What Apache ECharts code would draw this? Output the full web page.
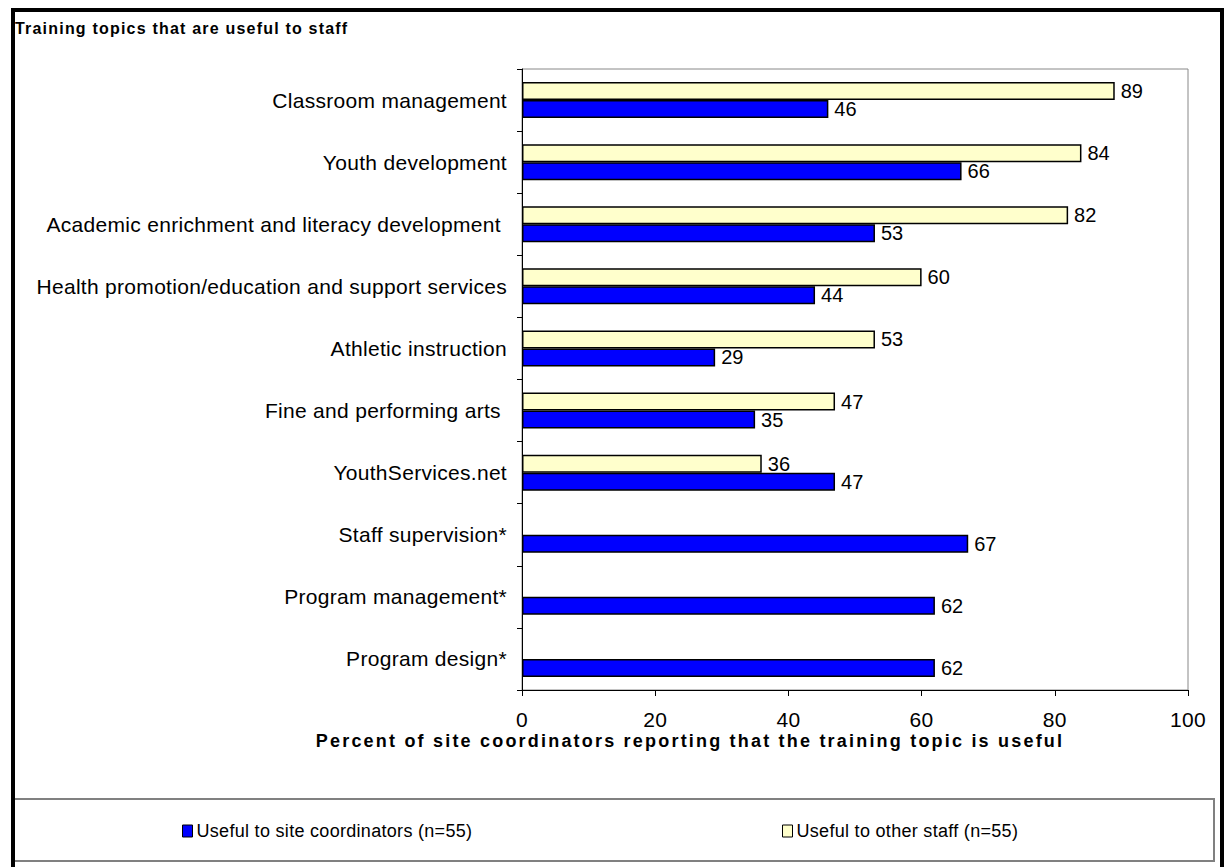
<!DOCTYPE html>
<html><head><meta charset="utf-8">
<script src="https://cdn.jsdelivr.net/npm/echarts@6/dist/echarts.min.js"></script>
<style>
html,body{margin:0;padding:0;background:#fff}
#c{width:1225px;height:867px}
#c text[style*="21px"]{letter-spacing:0.3px}
#c text[style*="18px"]{letter-spacing:0.3px}
#c text[style*="bold"][style*="16px"]{letter-spacing:1.2px}
#c text[style*="bold"][style*="18px"]{letter-spacing:2.2px}
</style>
</head><body><div id="c"></div>
<script>
const categories = [
  'Classroom management',
  'Youth development',
  'Academic enrichment and literacy development ',
  'Health promotion/education and support services',
  'Athletic instruction',
  'Fine and performing arts ',
  'YouthServices.net',
  'Staff supervision*',
  'Program management*',
  'Program design*'
];
const otherStaff = [89, 84, 82, 60, 53, 47, 36, null, null, null];
const siteCoordinators = [46, 66, 53, 44, 29, 35, 47, 67, 62, 62];
const xTicks = [0, 20, 40, 60, 80, 100];
const seriesNames = ['Useful to site coordinators (n=55)', 'Useful to other staff (n=55)'];

const FONT = '"Liberation Sans", Arial, sans-serif';
const chart = echarts.init(document.getElementById('c'), null, {renderer: 'svg'});
const labelStyle = {show: true, position: 'right', distance: 6, color: '#000', fontSize: 20, fontFamily: FONT};
const legendCommon = {
  top: 817, itemWidth: 10, itemHeight: 12, itemGap: 0, icon: 'rect',
  textStyle: {fontSize: 18, color: '#000', fontFamily: FONT, padding: [0, 0, 0, -1]},
  itemStyle: {borderColor: '#000', borderWidth: 1}
};
chart.setOption({
  animation: false,
  textStyle: {fontFamily: FONT},
  title: {
    text: 'Training topics that are useful to staff',
    left: 10, top: 15,
    textStyle: {fontSize: 16, fontWeight: 'bold', color: '#000', fontFamily: FONT}
  },
  graphic: [
    {type: 'rect', shape: {x: 13, y: 10, width: 1209, height: 870}, style: {fill: null, stroke: '#000', lineWidth: 4}, z: 100},
    {type: 'rect', shape: {x: 13, y: 799, width: 1201, height: 62}, style: {fill: null, stroke: '#808080', lineWidth: 2}, z: 99},
    {type: 'text', x: 690, y: 741, style: {
      text: 'Percent of site coordinators reporting that the training topic is useful',
      fontSize: 18, fontWeight: 'bold', fill: '#000', fontFamily: FONT,
      textAlign: 'center', textVerticalAlign: 'middle'}}
  ],
  legend: [
    Object.assign({data: [seriesNames[0]], left: 177}, legendCommon),
    Object.assign({data: [seriesNames[1]], left: 777}, legendCommon)
  ],
  grid: {left: 522, right: 37, top: 69, bottom: 177, show: true, borderColor: '#888', borderWidth: 1, containLabel: false},
  xAxis: {
    type: 'value', min: 0, max: 100, interval: 20,
    axisLine: {show: true, lineStyle: {color: '#000', width: 1}},
    axisTick: {show: true, length: 6, lineStyle: {color: '#000'}},
    axisLabel: {color: '#000', fontSize: 21, margin: 19, fontFamily: FONT,
      formatter: v => xTicks.includes(v) ? String(v) : ''},
    splitLine: {show: false}
  },
  yAxis: {
    type: 'category', data: categories, inverse: true,
    axisLine: {show: true, lineStyle: {color: '#000', width: 1}},
    axisTick: {show: true, length: 5, lineStyle: {color: '#000'}},
    axisLabel: {color: '#000', fontSize: 21, margin: 15, fontFamily: FONT},
    splitLine: {show: false}
  },
  series: [
    {
      name: seriesNames[1], type: 'bar', data: otherStaff, barWidth: 18, barGap: '0%',
      itemStyle: {color: '#FFFFCC', borderColor: '#000', borderWidth: 1.5},
      label: labelStyle
    },
    {
      name: seriesNames[0], type: 'bar', data: siteCoordinators, barWidth: 18, barGap: '0%',
      itemStyle: {color: '#0000FF', borderColor: '#000', borderWidth: 1.5},
      label: labelStyle
    }
  ]
});
</script></body></html>
